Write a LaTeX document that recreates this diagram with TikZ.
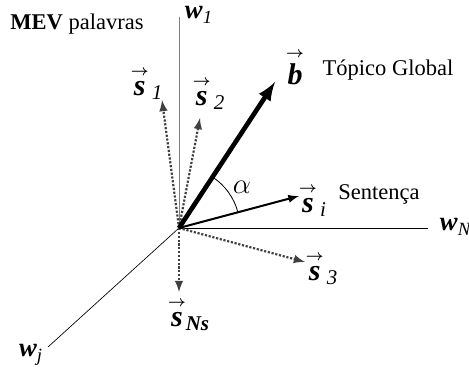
\documentclass[tikz,border=0pt]{standalone}
\usepackage{fontspec}
\setmainfont{Liberation Serif}
\usepackage{amsmath}
\usetikzlibrary{arrows}
\newcommand{\vecs}[2]{$\overset{\scriptscriptstyle\boldsymbol{\rightarrow}}{\textbf{\textit{#1}}}_{\,\textit{#2}}$}
\newcommand{\wax}[2]{$\textbf{\textit{#1}}_{\textit{#2}}$}

\begin{document}
\begin{tikzpicture}[x=0.6pt,y=0.6pt,
  eixo/.style={line width=0.5pt},
  sdot/.style={arrows=-latex,densely dotted,line width=1.3pt,color=black!75},
  vlab/.style={font=\fontsize{18}{20}\selectfont},
  wlab/.style={font=\fontsize{16}{18}\selectfont},
  txt/.style={font=\fontsize{13.5}{15}\selectfont}]
  \useasboundingbox (0,0) rectangle (469,376);
  \node[txt] (mev) at (77,352) {\textbf{MEV} palavras};

  % eixos do espaco
  \coordinate (O) at (179,148);
  \coordinate (W1) at (179,359);
  \coordinate (WN) at (428,148);
  \coordinate (WJ) at (48,29);
  \draw[eixo,color=gray] (O) -- (W1);
  \draw[eixo] (O) -- (WN);
  \draw[eixo,line width=0.4pt] (O) -- (WJ);
  \node[wlab] (w1) at (199,361) {\wax{w}{1}};
  \node[wlab,anchor=west] (wn) at (434,149) {\wax{w}{NI}};
  \node[wlab] (wj) at (31,21) {\wax{w}{j}};

  % sentencas
  \coordinate (S1) at (162,276);
  \coordinate (S2) at (200,258);
  \coordinate (S3) at (305,114);
  \coordinate (SN) at (179,84);
  \draw[sdot] (O) -- (S1);
  \draw[sdot] (O) -- (S2);
  \draw[sdot] (O) -- (S3);
  \draw[sdot] (O) -- (SN);
  \node[vlab] (s1) at (147,293) {\vecs{s}{1}};
  \node[vlab] (s2) at (209,283) {\vecs{s}{2}};
  \node[vlab] (s3) at (322,108) {\vecs{s}{3}};
  \node[vlab] (sn) at (189,62) {$\overset{\scriptscriptstyle\boldsymbol{\rightarrow}}{\textbf{\textit{s}}}_{\textbf{\textit{Ns}}}$};

  % topico global e sentenca i
  \coordinate (B) at (275,294);
  \coordinate (SI) at (299,180);
  \draw[arrows=-latex,line width=2.8pt] (O) -- (B);
  \draw[arrows=-latex,line width=1.2pt] (O) -- (SI);
  \node[vlab] (b) at (295,309) {$\overset{\scriptscriptstyle\boldsymbol{\rightarrow}}{\textbf{\textit{b}}}$};
  \node[txt] (top) at (388,306) {Tópico Global};
  \node[vlab] (si) at (313,176) {\vecs{s}{i}};
  \node[txt] (sent) at (379,182) {Sentença};

  % angulo
  \draw[eixo] (O) ++(56.7:61) arc (56.7:14.9:61);
  \node[vlab] (alfa) at (242,189) {$\alpha$};
\end{tikzpicture}
\end{document}
